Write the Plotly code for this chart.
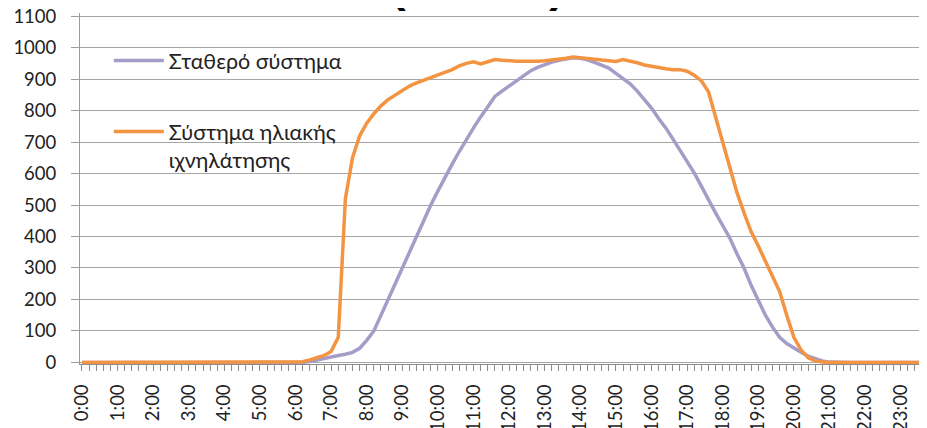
import plotly.graph_objects as go

# time in hours, 12-minute steps (0:00 .. 23:48)
hours = [round(i * 0.2, 1) for i in range(120)]

hour_ticks = list(range(24))
hour_labels = [f"{h}:00" for h in hour_ticks]

fixed_system = (
    [0] * 32 +                                   # 0:00 .. 6:12
    [3, 8, 14, 18, 22, 26, 32, 45,               # 6:24 .. 7:48
     70, 100, 150, 205, 255, 305, 355, 400,      # 8:00 .. 9:24
     450, 500, 545, 590, 630, 670, 710, 745,     # 9:36 .. 11:00
     780, 815, 845, 862, 878, 897, 912, 926,     # 11:12 .. 12:36
     937, 946, 954, 960, 965, 968, 966, 961,     # 12:48 .. 14:12
     953, 944, 935, 918, 902, 885, 862, 835,     # 14:24 .. 15:48
     808, 775, 745, 710, 675, 640, 602, 560,     # 16:00 .. 17:24
     515, 475, 435, 395, 345, 300, 245, 195,     # 17:36 .. 18:48
     150, 112, 80, 60, 45, 32, 20, 12,           # 19:00 .. 20:24
     5, 1] +                                     # 20:36 .. 20:48
    [0] * 14                                     # 21:00 .. 23:48
)

tracking_system = (
    [0] * 31 +                                   # 0:00 .. 6:00
    [2, 8, 15, 22, 35, 80, 520, 650,             # 6:12 .. 7:36
     720, 760, 790, 815, 835, 850, 865, 878,     # 7:48 .. 9:12
     888, 896, 905, 912, 920, 930, 942, 950,     # 9:24 .. 10:48
     955, 948, 955, 962, 960, 958, 957, 957,     # 11:00 .. 12:24
     956, 957, 958, 960, 962, 966, 970, 968,     # 12:36 .. 14:00
     966, 963, 962, 960, 956, 962, 958, 952,     # 14:12 .. 15:36
     945, 940, 937, 933, 930, 930, 925, 912,     # 15:48 .. 17:12
     895, 860, 780, 700, 615, 540, 475, 415,     # 17:24 .. 18:48
     370, 320, 275, 225, 150, 80, 40, 15,        # 19:00 .. 20:24
     5, 1] +                                     # 20:36 .. 20:48
    [0] * 14                                     # 21:00 .. 23:48
)

series_names = ["Σταθερό σύστημα", "Σύστημα ηλιακής<br>ιχνηλάτησης"]
series_colors = ["#A69CC8", "#F39442"]

FONT = "Lato, 'Noto Sans', sans-serif"

fig = go.Figure()
fig.add_trace(go.Scatter(x=hours, y=fixed_system, mode="lines",
                         name=series_names[0], legendgroup="a",
                         line=dict(color=series_colors[0], width=3.5)))
fig.add_trace(go.Scatter(x=hours, y=tracking_system, mode="lines",
                         name=series_names[1], legendgroup="b",
                         line=dict(color=series_colors[1], width=3.5)))

# the page body adds an 8px offset; sizes compensate for it
fig.update_layout(
    width=919, height=420,
    margin=dict(l=72, r=0, t=4.9, b=64.4),
    paper_bgcolor="white", plot_bgcolor="white",
    font=dict(family=FONT, size=18.5, color="#222222"),
    showlegend=True,
    legend=dict(x=0.034, y=0.923, xanchor="left", yanchor="top",
                bgcolor="rgba(0,0,0,0)", font=dict(size=21.5, color="#222222"),
                tracegroupgap=40, valign="top", traceorder="grouped",
                itemwidth=50),
    annotations=[dict(text="<b>(Wh/m²)</b>", xref="paper", yref="paper",
                      x=(477 - 80) / 847, y=1, xanchor="center", yanchor="bottom",
                      yshift=0, showarrow=False,
                      font=dict(family="Liberation Sans", size=47, color="black"))],
)

fig.update_xaxes(
    range=[-0.056, 23.74], automargin=False, ticklabeloverflow="allow",
    tickmode="array", tickvals=hour_ticks, ticktext=hour_labels,
    tickangle=-90, ticks="outside", ticklen=6, tickcolor="#8C8C8C",
    ticklabelstandoff=6,
    tickfont=dict(size=18.5, color="#222222"),
    showline=True, linecolor="#8C8C8C", linewidth=1,
    showgrid=False, zeroline=False,
    minor=dict(dtick=0.2, tick0=0, ticks="outside", ticklen=6, tickcolor="#8C8C8C", showgrid=False),
)

fig.update_yaxes(
    range=[-5, 1110], automargin=False, ticklabeloverflow="allow",
    tickmode="linear", tick0=0, dtick=100,
    ticks="outside", ticklen=8, tickcolor="#9C9C9C", ticklabelstandoff=11,
    tickfont=dict(size=18.5, color="#222222"),
    showline=True, linecolor="#9C9C9C", linewidth=1,
    showgrid=True, gridcolor="#A6A6A6", gridwidth=1, zeroline=False,
)

fig.write_html("out.html")
